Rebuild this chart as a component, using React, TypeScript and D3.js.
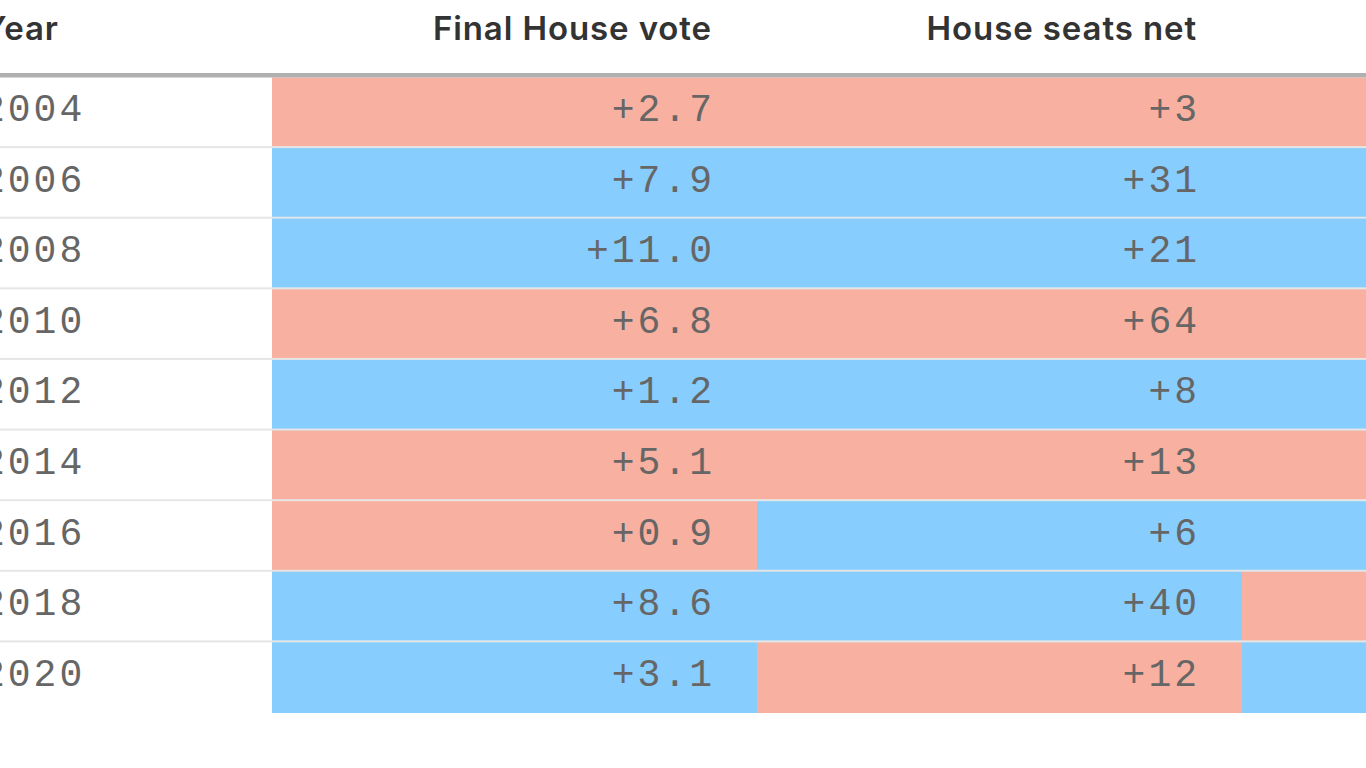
import React from "react";
import * as d3 from "d3";

const years = ["2004", "2006", "2008", "2010", "2012", "2014", "2016", "2018", "2020"];
const houseVote = ["+2.7", "+7.9", "+11.0", "+6.8", "+1.2", "+5.1", "+0.9", "+8.6", "+3.1"];
const houseVoteParty = ["R", "D", "D", "R", "D", "R", "R", "D", "D"];
const seatsNet = ["+3", "+31", "+21", "+64", "+8", "+13", "+6", "+40", "+12"];
const seatsNetParty = ["R", "D", "D", "R", "D", "R", "D", "D", "R"];
const nextParty = ["R", "D", "D", "R", "D", "R", "D", "R", "D"];
const headers = ["Year", "Final House vote", "House seats net"];

const W = 1366;
const H = 768;
const colors: Record<string, string> = { R: "#f8b0a0", D: "#87cdfe" };

export default function App() {
  const y = d3.scaleBand<string>().domain(years).range([77.5, 713]).paddingInner(0);
  const colEdges = [-60, 272, 757, 1242, 1727];
  const colX = (i: number) => colEdges[i];
  const pad = 42;
  const mono = "'Liberation Mono', 'Cousine', monospace";
  const sans = "Inter, 'Noto Sans', sans-serif";
  const cols = [
    { vals: houseVote, party: houseVoteParty },
    { vals: seatsNet, party: seatsNetParty },
    { vals: null as string[] | null, party: nextParty },
  ];
  const bw = y.bandwidth();
  return (
    <svg width={W} height={H} style={{ position: "absolute", left: 0, top: 0, background: "#fff" }}>
      {headers.map((h, i) => (
        <text
          key={h}
          x={i === 0 ? -17 : colX(i + 1) - 45}
          y={40}
          textAnchor={i === 0 ? "start" : "end"}
          fontFamily={sans}
          fontWeight={600}
          fontSize={33}
          letterSpacing={0.9}
          fill="#333"
        >
          {h}
        </text>
      ))}
      {years.map((yr, r) => {
        const top = y(yr)!;
        return (
          <g key={yr}>
            {cols.map((c, ci) => (
              <rect key={ci} x={colX(ci + 1)} y={top} width={colX(ci + 2) - colX(ci + 1)} height={bw} fill={colors[c.party[r]]} />
            ))}
            {r < years.length - 1 && (
              <rect x={colX(0)} y={top + bw - 2} width={colEdges[4] - colEdges[0]} height={2} fill="#e6e6e6" />
            )}
            <text x={-18} y={top + 43.5} fontFamily={mono} fontSize={38} fill="#666" letterSpacing={3}>
              {yr}
            </text>
            {cols.map((c, ci) =>
              c.vals ? (
                <text
                  key={"t" + ci}
                  x={colX(ci + 2) - pad}
                  y={top + 43.5}
                  textAnchor="end"
                  fontFamily={mono}
                  fontSize={38}
                  fill="#666"
                  letterSpacing={3}
                >
                  {c.vals[r]}
                </text>
              ) : null
            )}
          </g>
        );
      })}
      <rect x={colX(0)} y={73} width={colEdges[4] - colEdges[0]} height={4.5} fill="#b0b0b0" />
    </svg>
  );
}
